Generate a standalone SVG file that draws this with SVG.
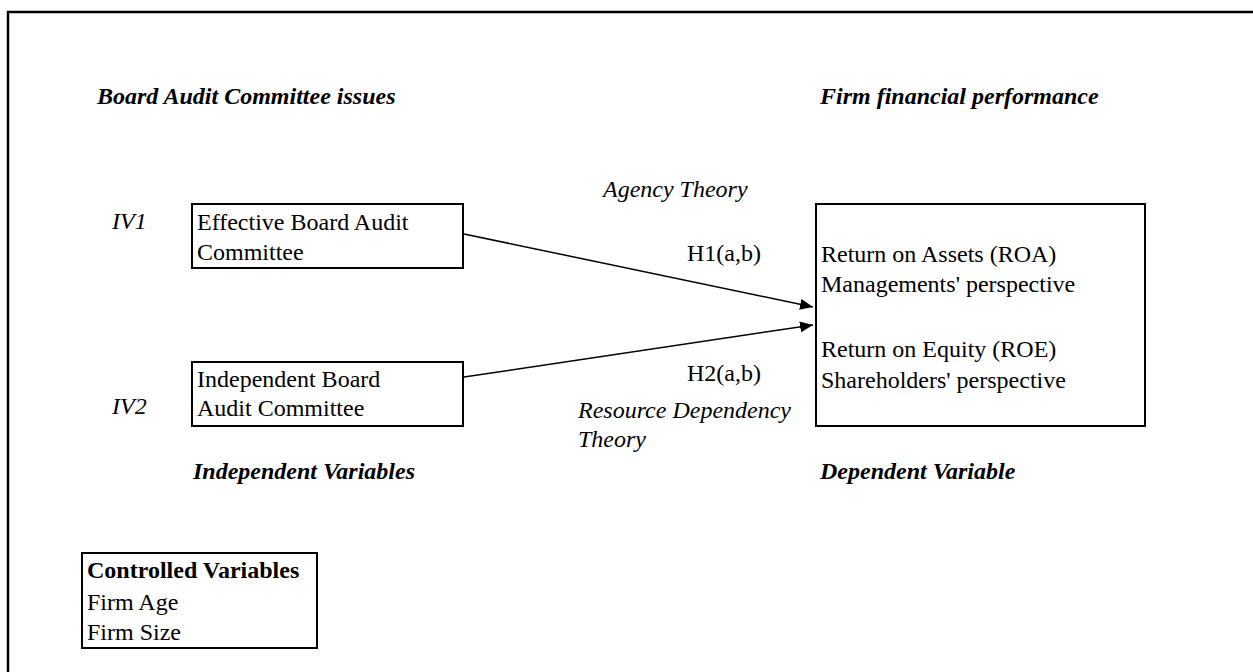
<svg xmlns="http://www.w3.org/2000/svg" width="1253" height="672" viewBox="0 0 1253 672">
<style>
text{font-family:"Liberation Serif","Times New Roman",serif;font-size:24px;fill:#000}
.i{font-style:italic}
.bi{font-style:italic;font-weight:bold}
.b{font-weight:bold}
.box{fill:#fff;stroke:#000;stroke-width:2}
.conn{stroke:#000;stroke-width:1.5;fill:none}
</style>
<defs>
<marker id="ah" markerWidth="13" markerHeight="11" refX="13" refY="5.5" orient="auto" markerUnits="userSpaceOnUse">
<path d="M0,0 L13,5.5 L0,11 Z" fill="#000"/>
</marker>
</defs>
<g id="frame">
<path d="M8,672 L8,12 L1253,12" fill="none" stroke="#000" stroke-width="2.5"/>
</g>
<g id="headers">
<text class="bi" x="97" y="104">Board Audit Committee issues</text>
<text class="bi" x="820" y="104">Firm financial performance</text>
<text class="bi" x="193" y="479">Independent Variables</text>
<text class="bi" x="820" y="479">Dependent Variable</text>
<text class="i" x="112" y="229">IV1</text>
<text class="i" x="112" y="414">IV2</text>
</g>
<g id="iv1">
<rect class="box" x="192" y="204" width="271" height="64"/>
<text x="197" y="230">Effective Board Audit</text>
<text x="197" y="260">Committee</text>
</g>
<g id="iv2">
<rect class="box" x="192" y="362" width="271" height="64"/>
<text x="197" y="387">Independent Board</text>
<text x="197" y="416">Audit Committee</text>
</g>
<g id="dv">
<rect class="box" x="816" y="204" width="329" height="222"/>
<text x="821" y="262">Return on Assets (ROA)</text>
<text x="821" y="292">Managements' perspective</text>
<text x="821" y="357">Return on Equity (ROE)</text>
<text x="821" y="388">Shareholders' perspective</text>
</g>
<g id="cv">
<rect class="box" x="82" y="553" width="235" height="95"/>
<text class="b" x="87" y="578">Controlled Variables</text>
<text x="87" y="610">Firm Age</text>
<text x="87" y="640">Firm Size</text>
</g>
<g id="connectors">
<line class="conn" x1="464" y1="234" x2="813" y2="307" marker-end="url(#ah)"/>
<line class="conn" x1="464" y1="377" x2="813" y2="325" marker-end="url(#ah)"/>
</g>
<g id="labels">
<text class="i" x="603" y="197">Agency Theory</text>
<text x="687" y="261">H1(a,b)</text>
<text x="687" y="381">H2(a,b)</text>
<text class="i" x="578" y="418">Resource Dependency</text>
<text class="i" x="578" y="447">Theory</text>
</g>
</svg>
